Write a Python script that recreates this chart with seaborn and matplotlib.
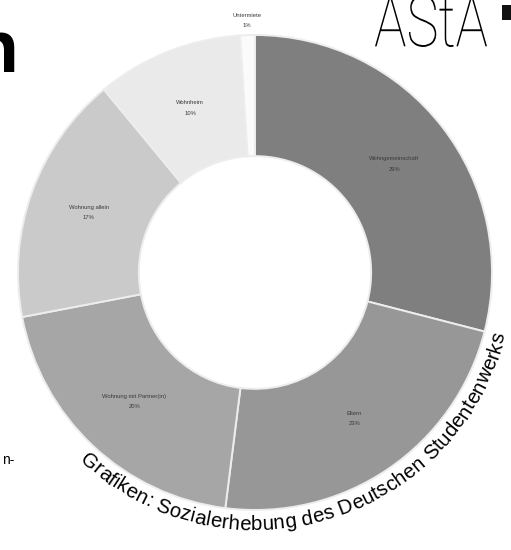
import numpy as np
import matplotlib
matplotlib.use("Agg")
import matplotlib.pyplot as plt
import seaborn as sns
from matplotlib.font_manager import FontProperties
from matplotlib.textpath import TextPath
from matplotlib.patches import PathPatch, Rectangle
from matplotlib.transforms import Affine2D, IdentityTransform

sns.set_theme(style="white")
plt.rcParams['font.family'] = ['Liberation Sans', 'DejaVu Sans']

# Daten: Wohnform der Studierenden (Sozialerhebung)
wohnformen = ["Wohngemeinschaft", "Eltern", "Wohnung mit Partner(in)",
              "Wohnung allein", "Wohnheim", "Untermiete"]
anteile = [29, 23, 20, 17, 10, 1]
grautoene = ["#7f7f7f", "#979797", "#a6a6a6", "#cacaca", "#eaeaea", "#fbfbfb"]
quelle = "Grafiken: Sozialerhebung des Deutschen Studentenwerks"

W, H = 511, 550
fig = plt.figure(figsize=(W / 100, H / 100), dpi=100)
fig.patch.set_facecolor("white")

# ===================== DONUT =====================
ax_l, ax_r, ax_t, ax_b = 18, 492, 35, 510
ax = fig.add_axes([ax_l / W, (H - ax_b) / H, (ax_r - ax_l) / W, (ax_b - ax_t) / H])
wedges, _ = ax.pie(anteile, colors=grautoene, startangle=90, counterclock=False,
                   wedgeprops=dict(width=0.51, edgecolor="#ededed", linewidth=1.4))
ax.set_xlim(-1, 1)
ax.set_ylim(-1, 1)
ax.set_aspect("auto")
ax.axis("off")

for w, name, pct in zip(wedges, wohnformen, anteile):
    mid = np.deg2rad((w.theta1 + w.theta2) / 2)
    r = 0.745 if pct > 5 else 1.06
    ax.text(r * np.cos(mid), r * np.sin(mid), f"{name}\n{pct}%", ha="center", va="center",
            fontsize=4.2, color="#3a3a3a", linespacing=2.3, clip_on=False)

# ===================== QUELLE (gebogen) =====================
cx, cy, R = 255, 272, 258          # Kreis für die Grundlinie, Pixel
r_mitte = R - 6
start, ende = np.deg2rad(-133), np.deg2rad(-14)

renderer = fig.canvas.get_renderer()
def breite(s, prop):
    return renderer.get_text_width_height_descent(s + "|", prop, ismath=False)[0] - \
        renderer.get_text_width_height_descent("|", prop, ismath=False)[0]

prop = FontProperties(family="Liberation Sans", size=11)
groesse = 11 * r_mitte * (ende - start) / breite(quelle, prop)
prop = FontProperties(family="Liberation Sans", size=groesse)
links = [breite(quelle[:i], prop) for i in range(len(quelle) + 1)]
for i, ch in enumerate(quelle):
    if ch == " ":
        continue
    t = start + (links[i] + links[i + 1]) / 2 / r_mitte
    x = cx + R * np.cos(t)
    y = (H - cy) + R * np.sin(t)
    fig.text(x / W, y / H, ch, fontproperties=prop, color="black",
             rotation=np.degrees(t) + 90, rotation_mode="anchor",
             ha="center", va="baseline")

# ===================== SEITENRAND =====================
fig.text(19 / W, 1 - 72 / H, "n", ha="right", va="baseline", fontsize=54,
         fontweight="bold", color="black")
fig.text(14 / W, 1 - 464 / H, "n-", ha="right", va="baseline", fontsize=10, color="black")

logo = TextPath((0, 0), "AStA", size=100, prop=FontProperties(family="Roboto", weight=100))
ext = logo.get_extents()
sx = (487 - 375) / ext.width
sy = 52 / ext.height
tr = Affine2D().translate(-ext.x0, -ext.y0).scale(sx, sy).translate(375, H - 47)
fig.add_artist(PathPatch(logo, transform=tr + IdentityTransform(), facecolor="black",
                         edgecolor="none"))
fig.add_artist(Rectangle((502 / W, 1 - 20 / H), 9 / W, 15 / H, transform=fig.transFigure,
                         facecolor="#111111", edgecolor="none"))

fig.savefig("out.png", dpi=100, facecolor="white")
